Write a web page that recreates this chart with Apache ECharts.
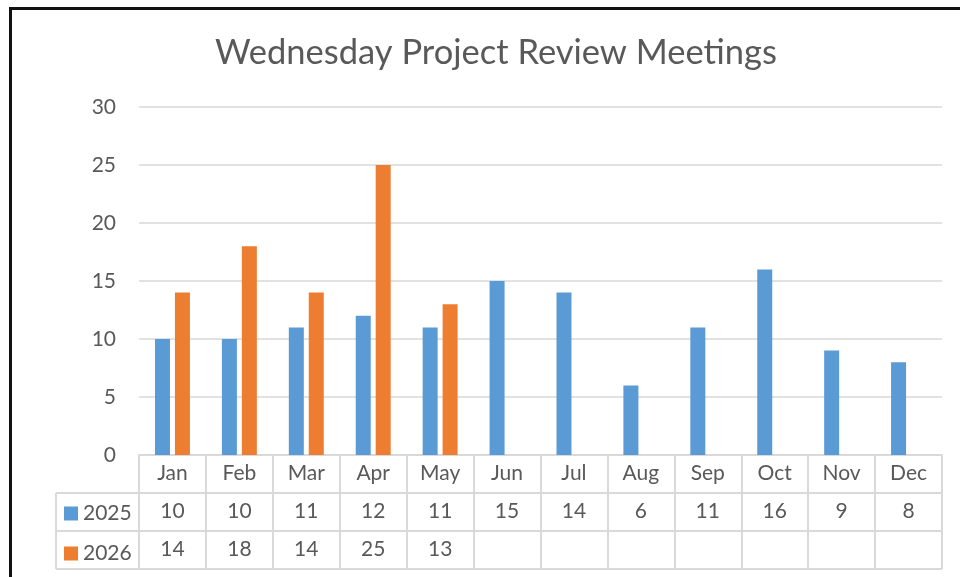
<!DOCTYPE html>
<html>
<head>
<meta charset="utf-8">
<script src="https://cdn.jsdelivr.net/npm/echarts@6/dist/echarts.min.js"></script>
<style>html,body{margin:0;padding:0;background:#fff;}#c{width:960px;height:577px;}</style>
</head>
<body>
<div id="c"></div>
<script>
var months = ['Jan','Feb','Mar','Apr','May','Jun','Jul','Aug','Sep','Oct','Nov','Dec'];
var seriesNames = ['2025','2026'];
var v2025 = [10,10,11,12,11,15,14,6,11,16,9,8];
var v2026 = [14,18,14,25,13,null,null,null,null,null,null,null];
var yTicks = [0,5,10,15,20,25,30];

var FONT = 'Lato, "Noto Sans", sans-serif';
var TXT = '#595959';
var LINE = '#d9d9d9';
var GL = 139, GR = 942, GT = 107, GB = 455, ROW = 38, TL = 56;

var chart = echarts.init(document.getElementById('c'), null, {renderer:'canvas'});
function cellText(arr){ return function(v, i){ var x = arr[i]; return (x === null || x === undefined) ? '' : String(x); }; }

chart.setOption({
  animation:false,
  backgroundColor:'#fff',
  color:['#5B9BD5','#ED7D31'],
  title:{
    text:'Wednesday Project Review Meetings',
    left:491, top:30, textAlign:'center',
    textStyle:{fontFamily:FONT, fontSize:34.5, fontWeight:'normal', color:TXT}
  },
  legend:{
    data:seriesNames,
    orient:'vertical', left:64, top:503, padding:0,
    icon:'rect', itemWidth:14, itemHeight:14, itemGap:19,
    textStyle:{fontFamily:FONT, fontSize:21, color:TXT, lineHeight:19}
  },
  grid:{left:GL, right:960-GR, top:GT, bottom:577-GB, containLabel:false},
  xAxis:[
    {type:'category', data:months, position:'bottom',
     axisLine:{lineStyle:{color:LINE, width:2}},
     axisTick:{show:true, length:ROW*3, interval:0, lineStyle:{color:LINE, width:2}},
     axisLabel:{fontFamily:FONT, fontSize:21, color:TXT, margin:8, interval:0}},
    {type:'category', data:months, position:'bottom', offset:ROW,
     axisLine:{show:false}, axisTick:{show:false},
     axisLabel:{fontFamily:FONT, fontSize:21, color:TXT, margin:8, interval:0, formatter:cellText(v2025)}},
    {type:'category', data:months, position:'bottom', offset:ROW*2,
     axisLine:{show:false}, axisTick:{show:false},
     axisLabel:{fontFamily:FONT, fontSize:21, color:TXT, margin:8, interval:0, formatter:cellText(v2026)}}
  ],
  yAxis:{type:'value', min:yTicks[0], max:yTicks[yTicks.length-1], interval:yTicks[1]-yTicks[0],
    axisLine:{show:false}, axisTick:{show:false},
    splitLine:{lineStyle:{color:LINE, width:1.5}},
    axisLabel:{fontFamily:FONT, fontSize:21, color:TXT, margin:23}},
  series:[
    {name:seriesNames[0], type:'bar', data:v2025, barWidth:15, barGap:'33%', xAxisIndex:0},
    {name:seriesNames[1], type:'bar', data:v2026, barWidth:15, barGap:'33%', xAxisIndex:0}
  ],
  graphic:[
    {type:'line', shape:{x1:TL, y1:GB+ROW, x2:GR, y2:GB+ROW}, style:{stroke:LINE, lineWidth:2}, silent:true},
    {type:'line', shape:{x1:TL, y1:GB+ROW*2, x2:GR, y2:GB+ROW*2}, style:{stroke:LINE, lineWidth:2}, silent:true},
    {type:'line', shape:{x1:TL, y1:GB+ROW*3, x2:GR, y2:GB+ROW*3}, style:{stroke:LINE, lineWidth:2}, silent:true},
    {type:'line', shape:{x1:TL, y1:GB+ROW, x2:TL, y2:GB+ROW*3}, style:{stroke:LINE, lineWidth:2}, silent:true},
    {type:'rect', shape:{x:10.5, y:8.5, width:1000, height:1000}, style:{fill:null, stroke:'#111', lineWidth:3}, silent:true}
  ]
});
</script>
</body>
</html>
